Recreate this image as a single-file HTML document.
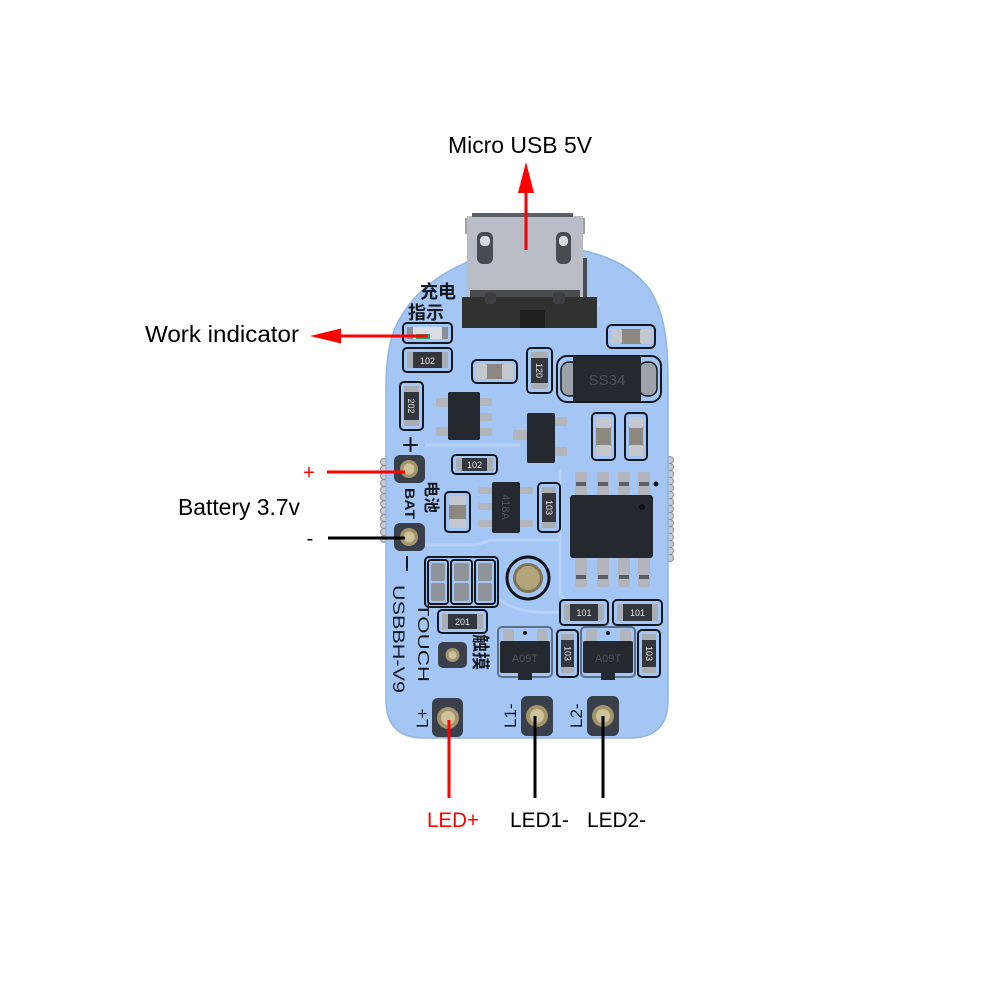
<!DOCTYPE html>
<html><head><meta charset="utf-8"><style>
html,body{margin:0;padding:0;background:#fff;}
svg{display:block}
.lbl{font-family:"Liberation Sans",sans-serif;font-size:23px;fill:#000;}
.silk{fill:none;stroke:#151820;stroke-width:2;}
.body{fill:#33363c;}
.end{fill:#a9aeb5;}
.tan{fill:#8e8780;}
.rt{font-family:"Liberation Sans",sans-serif;font-size:9px;fill:#e6e6e6;}
.ic{fill:#24282f;}
.pin{fill:#b2b6bc;}
.st{font-family:"Liberation Sans","Noto Sans CJK SC",sans-serif;fill:#151820;font-weight:bold;}
.pad{fill:#3a404b;}
.gold{fill:#a3946a;}
.gold2{fill:#cdc29a;}
</style></head><body>
<svg width="1000" height="1000" viewBox="0 0 1000 1000" xmlns="http://www.w3.org/2000/svg">
<rect width="1000" height="1000" fill="#fff"/>

<!-- castellated teeth -->
<g fill="#c9ccd1" stroke="#8d9096" stroke-width="1">
<circle cx="384" cy="462" r="3.5"/><circle cx="384" cy="469" r="3.5"/><circle cx="384" cy="476" r="3.5"/><circle cx="384" cy="483" r="3.5"/><circle cx="384" cy="490" r="3.5"/><circle cx="384" cy="497" r="3.5"/><circle cx="384" cy="504" r="3.5"/><circle cx="384" cy="511" r="3.5"/><circle cx="384" cy="518" r="3.5"/><circle cx="384" cy="525" r="3.5"/><circle cx="384" cy="532" r="3.5"/><circle cx="384" cy="539" r="3.5"/>
<circle cx="670" cy="460" r="3.5"/><circle cx="670" cy="467" r="3.5"/><circle cx="670" cy="474" r="3.5"/><circle cx="670" cy="481" r="3.5"/><circle cx="670" cy="488" r="3.5"/><circle cx="670" cy="495" r="3.5"/><circle cx="670" cy="502" r="3.5"/><circle cx="670" cy="509" r="3.5"/><circle cx="670" cy="516" r="3.5"/><circle cx="670" cy="523" r="3.5"/><circle cx="670" cy="530" r="3.5"/><circle cx="670" cy="537" r="3.5"/><circle cx="670" cy="544" r="3.5"/><circle cx="670" cy="551" r="3.5"/><circle cx="670" cy="558" r="3.5"/>
</g>

<!-- board -->
<path d="M386,700 L386,390 C386,350 392,330 402,315 C420,285 460,255 527,247 C590,244 630,262 650,290 C664,312 668,340 668,380 L668,700 Q668,738 630,738 L424,738 Q386,738 386,700 Z" fill="#a4c6f5" stroke="#93b4e2" stroke-width="1.5"/>

<!-- faint traces -->
<g fill="none" stroke="#bad4f9" stroke-width="3" opacity="0.8">
<path d="M420,545 L470,545 Q480,545 490,540 L560,540"/>
<path d="M500,600 Q520,615 560,612"/>
<path d="M425,445 L520,445"/>
<path d="M465,305 L600,305"/>
<path d="M560,470 L560,590 Q560,600 570,600"/>
</g>

<!-- USB connector -->
<rect x="465" y="218" width="8" height="16" fill="#9aa0a8"/>
<rect x="577" y="218" width="8" height="16" fill="#9aa0a8"/>
<rect x="583" y="258" width="4" height="40" fill="#4a4e54"/>
<rect x="467" y="216" width="116" height="82" fill="#b9bdc5"/>
<rect x="472" y="213" width="101" height="4" fill="#5a5e65"/>
<rect x="477" y="232" width="16" height="32" rx="6" fill="#474b52"/>
<rect x="480" y="236" width="10" height="10" rx="4" fill="#d6d9de"/>
<rect x="556" y="232" width="15" height="32" rx="6" fill="#474b52"/>
<rect x="559" y="236" width="9" height="10" rx="4" fill="#d6d9de"/>
<rect x="470" y="290" width="110" height="8" fill="#4a4d50"/>
<path d="M462,297 L597,297 L597,328 L462,328 Z" fill="#2f322f"/>
<rect x="485" y="292" width="11" height="12" rx="3" fill="#3c3f43"/>
<rect x="553" y="292" width="12" height="12" rx="3" fill="#3c3f43"/>
<rect x="520" y="310" width="25" height="18" fill="#1f2120"/>

<!-- Chinese silk -->
<text x="420" y="298" class="st" font-size="18" style="font-family:'Noto Sans CJK SC',sans-serif">充电</text>
<text x="408" y="319" class="st" font-size="18" style="font-family:'Noto Sans CJK SC',sans-serif">指示</text>

<!-- LED -->
<rect class="silk" x="403" y="323" width="49" height="20" rx="4"/>
<rect x="407" y="327" width="41" height="12" rx="2" fill="#dadee4"/>
<rect x="407" y="327" width="6" height="12" fill="#8c9096"/>
<rect x="442" y="327" width="6" height="12" fill="#8c9096"/>
<rect x="416" y="334" width="14" height="5" fill="#2e9e6a"/>

<!-- R 102 -->
<rect class="silk" x="403" y="348" width="49" height="24" rx="4"/>
<rect class="body" x="407" y="352" width="41" height="16" rx="3"/>
<rect class="end" x="407" y="352" width="6" height="16"/>
<rect class="end" x="442" y="352" width="6" height="16"/>
<text class="rt" x="427.5" y="364" text-anchor="middle">102</text>

<!-- cap -->
<rect class="silk" x="472" y="360" width="45" height="23" rx="5"/>
<rect x="476" y="364" width="37" height="15" rx="3" class="tan"/>
<rect x="476" y="364" width="11" height="15" rx="2" fill="#c4c8ce"/>
<rect x="502" y="364" width="11" height="15" rx="2" fill="#c4c8ce"/>

<!-- R 120 vertical -->
<rect class="silk" x="527" y="348" width="25" height="45" rx="4"/>
<rect class="body" x="531" y="352" width="17" height="37" rx="3"/>
<rect class="end" x="531" y="352" width="17" height="6"/>
<rect class="end" x="531" y="383" width="17" height="6"/>
<text class="rt" x="0" y="0" text-anchor="middle" transform="translate(536,370.5) rotate(90)">120</text>

<!-- SS34 -->
<rect class="silk" x="557" y="356" width="104" height="46" rx="10"/>
<rect x="561" y="362" width="18" height="34" rx="8" fill="#9da2a9" stroke="#151820" stroke-width="1.5"/>
<rect x="639" y="362" width="18" height="34" rx="8" fill="#9da2a9" stroke="#151820" stroke-width="1.5"/>
<rect x="573" y="356" width="68" height="45" class="ic"/>
<text x="607" y="385" text-anchor="middle" font-family="Liberation Sans,sans-serif" font-size="15" fill="#4d5159">SS34</text>

<!-- top-right cap -->
<rect class="silk" x="607" y="325" width="48" height="23" rx="5"/>
<rect x="611" y="329" width="40" height="15" rx="3" class="tan"/>
<rect x="611" y="329" width="11" height="15" rx="2" fill="#c4c8ce"/>
<rect x="640" y="329" width="11" height="15" rx="2" fill="#c4c8ce"/>

<!-- R 202 vertical -->
<rect class="silk" x="400" y="382" width="23" height="48" rx="4"/>
<rect class="body" x="404" y="386" width="15" height="40" rx="3"/>
<rect class="end" x="404" y="386" width="15" height="6"/>
<rect class="end" x="404" y="420" width="15" height="6"/>
<text class="rt" x="0" y="0" text-anchor="middle" transform="translate(408,406) rotate(90)">202</text>

<!-- SOT-23-5 #1 -->
<rect class="pin" x="436" y="398" width="14" height="9" rx="2"/>
<rect class="pin" x="436" y="427" width="14" height="9" rx="2"/>
<rect class="pin" x="478" y="398" width="14" height="8" rx="2"/>
<rect class="pin" x="478" y="413" width="14" height="8" rx="2"/>
<rect class="pin" x="478" y="428" width="14" height="8" rx="2"/>
<rect class="ic" x="448" y="392" width="32" height="48" rx="2"/>

<!-- SOT-23 #2 -->
<rect class="pin" x="513" y="430" width="15" height="10" rx="2"/>
<rect class="pin" x="553" y="417" width="14" height="9" rx="2"/>
<rect class="pin" x="553" y="447" width="14" height="9" rx="2"/>
<rect class="ic" x="527" y="413" width="28" height="50" rx="2"/>

<!-- vertical caps -->
<rect class="silk" x="592" y="413" width="23" height="47" rx="4"/>
<rect x="596" y="417" width="15" height="39" rx="3" class="tan"/>
<rect x="596" y="417" width="15" height="11" rx="2" fill="#c4c8ce"/>
<rect x="596" y="445" width="15" height="11" rx="2" fill="#c4c8ce"/>
<rect class="silk" x="625" y="413" width="22" height="47" rx="4"/>
<rect x="629" y="417" width="14" height="39" rx="3" class="tan"/>
<rect x="629" y="417" width="14" height="11" rx="2" fill="#c4c8ce"/>
<rect x="629" y="445" width="14" height="11" rx="2" fill="#c4c8ce"/>

<!-- + silk -->
<line x1="403" y1="445" x2="418" y2="445" stroke="#151820" stroke-width="2"/>
<line x1="410.5" y1="437" x2="410.5" y2="452" stroke="#151820" stroke-width="2"/>

<!-- R 102 #2 -->
<rect class="silk" x="452" y="455" width="45" height="19" rx="4"/>
<rect class="body" x="456" y="458" width="37" height="13" rx="3"/>
<rect class="end" x="456" y="458" width="6" height="13"/>
<rect class="end" x="487" y="458" width="6" height="13"/>
<text class="rt" x="474.5" y="468" text-anchor="middle">102</text>

<!-- battery pads -->
<rect class="pad" x="394" y="455" width="31" height="28" rx="6"/>
<circle class="gold" cx="409" cy="469" r="9"/>
<circle class="gold2" cx="409" cy="469" r="5.5"/>
<rect class="pad" x="394" y="523" width="31" height="28" rx="6"/>
<circle class="gold" cx="409" cy="537" r="9"/>
<circle class="gold2" cx="409" cy="537" r="5.5"/>

<!-- BAT / 电池 -->
<text class="st" font-size="14" transform="translate(405,488) rotate(90)" textLength="31" lengthAdjust="spacingAndGlyphs">BAT</text>
<text class="st" font-size="16" transform="translate(426,481) rotate(90)" style="font-family:'Noto Sans CJK SC',sans-serif">电池</text>

<!-- vertical cap -->
<rect class="silk" x="445" y="492" width="25" height="40" rx="4"/>
<rect x="449" y="496" width="17" height="32" rx="3" class="tan"/>
<rect x="449" y="496" width="17" height="9" rx="2" fill="#c4c8ce"/>
<rect x="449" y="519" width="17" height="9" rx="2" fill="#c4c8ce"/>

<!-- SOT-23-5 418A -->
<rect class="pin" x="478" y="487" width="15" height="7" rx="2"/>
<rect class="pin" x="478" y="503" width="15" height="7" rx="2"/>
<rect class="pin" x="478" y="520" width="15" height="7" rx="2"/>
<rect class="pin" x="519" y="487" width="14" height="7" rx="2"/>
<rect class="pin" x="519" y="520" width="14" height="7" rx="2"/>
<rect class="ic" x="492" y="482" width="28" height="51" rx="2"/>
<text x="0" y="0" text-anchor="middle" font-family="Liberation Sans,sans-serif" font-size="11" fill="#50545c" transform="translate(502,507) rotate(90)">418A</text>

<!-- R 103 vertical -->
<rect class="silk" x="538" y="483" width="22" height="49" rx="4"/>
<rect class="body" x="542" y="487" width="14" height="41" rx="3"/>
<rect class="end" x="542" y="487" width="14" height="6"/>
<rect class="end" x="542" y="522" width="14" height="6"/>
<text class="rt" x="0" y="0" text-anchor="middle" transform="translate(546,507.5) rotate(90)">103</text>

<!-- SOIC-8 -->
<g>
<rect class="pin" x="575" y="472" width="12" height="24" rx="2"/>
<rect class="pin" x="597" y="472" width="12" height="24" rx="2"/>
<rect class="pin" x="618" y="472" width="12" height="24" rx="2"/>
<rect class="pin" x="638" y="472" width="12" height="24" rx="2"/>
<rect class="pin" x="575" y="557" width="12" height="30" rx="2"/>
<rect class="pin" x="597" y="557" width="12" height="30" rx="2"/>
<rect class="pin" x="618" y="557" width="12" height="30" rx="2"/>
<rect class="pin" x="638" y="557" width="12" height="30" rx="2"/>
<rect x="576" y="482" width="10" height="4" fill="#5a5e64"/><rect x="598" y="482" width="10" height="4" fill="#5a5e64"/><rect x="619" y="482" width="10" height="4" fill="#5a5e64"/><rect x="639" y="482" width="10" height="4" fill="#5a5e64"/>
<rect x="576" y="575" width="10" height="4" fill="#5a5e64"/><rect x="598" y="575" width="10" height="4" fill="#5a5e64"/><rect x="619" y="575" width="10" height="4" fill="#5a5e64"/><rect x="639" y="575" width="10" height="4" fill="#5a5e64"/>
<rect class="ic" x="570" y="495" width="83" height="63" rx="3"/>
<circle cx="642" cy="507" r="3" fill="#111318"/>
<circle cx="656" cy="484" r="2.5" fill="#111318"/>
</g>

<!-- - silk -->
<line x1="407" y1="556" x2="407" y2="571" stroke="#151820" stroke-width="2"/>

<!-- jumpers -->
<rect class="silk" x="425" y="557" width="73" height="50" rx="4"/>
<rect class="silk" x="428" y="560" width="20" height="44" rx="3"/>
<rect class="silk" x="451" y="560" width="21" height="44" rx="3"/>
<rect class="silk" x="475" y="560" width="20" height="44" rx="3"/>
<g fill="#8f949b">
<rect x="431" y="563" width="14" height="18" rx="2"/><rect x="431" y="583" width="14" height="18" rx="2"/>
<rect x="454" y="563" width="15" height="18" rx="2"/><rect x="454" y="583" width="15" height="18" rx="2"/>
<rect x="478" y="563" width="14" height="18" rx="2"/><rect x="478" y="583" width="14" height="18" rx="2"/>
</g>

<!-- hole -->
<circle cx="528" cy="578" r="21" fill="#a4c6f5" stroke="#111318" stroke-width="3"/>
<circle cx="528" cy="578" r="15" fill="#7f7353"/>
<circle cx="528" cy="578" r="12" fill="#b3a57a"/>

<!-- R 201 -->
<rect class="silk" x="438" y="610" width="49" height="23" rx="4"/>
<rect class="body" x="442" y="614" width="41" height="15" rx="3"/>
<rect class="end" x="442" y="614" width="6" height="15"/>
<rect class="end" x="477" y="614" width="6" height="15"/>
<text class="rt" x="462.5" y="625" text-anchor="middle">201</text>

<!-- touch pad -->
<rect class="pad" x="438" y="642" width="29" height="26" rx="5"/>
<circle class="gold" cx="452.5" cy="655" r="7"/>
<circle class="gold2" cx="452.5" cy="655" r="4"/>

<!-- TOUCH / USBBH-V9 / 触摸 -->
<text class="st" font-size="16" transform="translate(418,603) rotate(90)" textLength="79" lengthAdjust="spacingAndGlyphs" style="font-weight:normal">TOUCH</text>
<text class="st" font-size="17" transform="translate(393,585) rotate(90)" textLength="108" lengthAdjust="spacingAndGlyphs" style="font-weight:normal">USBBH-V9</text>
<text class="st" font-size="18" transform="translate(474,634) rotate(90)" style="font-family:'Noto Sans CJK SC',sans-serif">触摸</text>

<!-- 101 resistors -->
<rect class="silk" x="560" y="600" width="48" height="25" rx="4"/>
<rect class="body" x="564" y="604" width="40" height="17" rx="3"/>
<rect class="end" x="564" y="604" width="6" height="17"/>
<rect class="end" x="598" y="604" width="6" height="17"/>
<text class="rt" x="584" y="616" text-anchor="middle">101</text>
<rect class="silk" x="613" y="600" width="49" height="25" rx="4"/>
<rect class="body" x="617" y="604" width="41" height="17" rx="3"/>
<rect class="end" x="617" y="604" width="6" height="17"/>
<rect class="end" x="652" y="604" width="6" height="17"/>
<text class="rt" x="637.5" y="616" text-anchor="middle">101</text>

<!-- A09T #1 -->
<rect class="silk" x="498" y="627" width="54" height="50" rx="4" stroke-opacity="0.5"/>
<rect class="pin" x="503" y="629" width="11" height="14" rx="2"/>
<rect class="pin" x="537" y="629" width="11" height="14" rx="2"/>
<rect class="ic" x="500" y="641" width="50" height="32" rx="2"/>
<rect class="ic" x="518" y="672" width="14" height="8"/>
<circle cx="525" cy="633" r="2" fill="#111318"/>
<text x="525" y="662" text-anchor="middle" font-family="Liberation Sans,sans-serif" font-size="11" fill="#50545c">A09T</text>

<!-- A09T #2 -->
<rect class="silk" x="581" y="627" width="54" height="50" rx="4" stroke-opacity="0.5"/>
<rect class="pin" x="586" y="629" width="11" height="14" rx="2"/>
<rect class="pin" x="620" y="629" width="11" height="14" rx="2"/>
<rect class="ic" x="583" y="641" width="50" height="32" rx="2"/>
<rect class="ic" x="601" y="672" width="14" height="8"/>
<circle cx="608" cy="633" r="2" fill="#111318"/>
<text x="608" y="662" text-anchor="middle" font-family="Liberation Sans,sans-serif" font-size="11" fill="#50545c">A09T</text>

<!-- R 103 verticals -->
<rect class="silk" x="557" y="630" width="21" height="47" rx="4"/>
<rect class="body" x="561" y="634" width="13" height="39" rx="3"/>
<rect class="end" x="561" y="634" width="13" height="6"/>
<rect class="end" x="561" y="667" width="13" height="6"/>
<text class="rt" x="0" y="0" text-anchor="middle" transform="translate(564.5,653.5) rotate(90)">103</text>
<rect class="silk" x="638" y="630" width="22" height="47" rx="4"/>
<rect class="body" x="642" y="634" width="14" height="39" rx="3"/>
<rect class="end" x="642" y="634" width="14" height="6"/>
<rect class="end" x="642" y="667" width="14" height="6"/>
<text class="rt" x="0" y="0" text-anchor="middle" transform="translate(646,653.5) rotate(90)">103</text>

<!-- bottom pads -->
<rect class="pad" x="432" y="698" width="31" height="39" rx="6"/>
<circle class="gold" cx="448" cy="718" r="11"/>
<circle class="gold2" cx="448" cy="718" r="7"/>
<rect class="pad" x="521" y="696" width="32" height="40" rx="6"/>
<circle class="gold" cx="537" cy="716" r="11"/>
<circle class="gold2" cx="537" cy="716" r="7"/>
<rect class="pad" x="587" y="696" width="32" height="40" rx="6"/>
<circle class="gold" cx="603" cy="716" r="11"/>
<circle class="gold2" cx="603" cy="716" r="7"/>

<text class="st" font-size="17" style="font-weight:normal" transform="translate(428,728) rotate(-90)">L+</text>
<text class="st" font-size="17" style="font-weight:normal" transform="translate(516,728) rotate(-90)">L1-</text>
<text class="st" font-size="17" style="font-weight:normal" transform="translate(582,728) rotate(-90)">L2-</text>

<!-- ===== annotations ===== -->
<line x1="526" y1="188" x2="526" y2="250" stroke="#f00" stroke-width="3"/>
<polygon points="526,162 518,193 534,193" fill="#f00"/>
<text class="lbl" x="448" y="153" textLength="144" lengthAdjust="spacingAndGlyphs">Micro USB 5V</text>

<line x1="336" y1="336" x2="428" y2="336" stroke="#f00" stroke-width="3"/>
<polygon points="310,336 341,328.5 341,343.5" fill="#f00"/>
<text class="lbl" x="145" y="342" textLength="154" lengthAdjust="spacingAndGlyphs">Work indicator</text>

<text x="309" y="479" text-anchor="middle" font-family="Liberation Sans,sans-serif" font-size="20" fill="#f00">+</text>
<line x1="327" y1="472" x2="405" y2="472" stroke="#f00" stroke-width="3"/>
<text class="lbl" x="178" y="515" textLength="122" lengthAdjust="spacingAndGlyphs">Battery 3.7v</text>
<text x="310" y="545" text-anchor="middle" font-family="Liberation Sans,sans-serif" font-size="20" fill="#000">-</text>
<line x1="328" y1="538" x2="405" y2="538" stroke="#000" stroke-width="3"/>

<line x1="449" y1="720" x2="449" y2="798" stroke="#f00" stroke-width="3"/>
<line x1="535" y1="716" x2="535" y2="798" stroke="#000" stroke-width="3"/>
<line x1="603" y1="716" x2="603" y2="798" stroke="#000" stroke-width="3"/>
<text x="427" y="827" font-family="Liberation Sans,sans-serif" font-size="21" fill="#f00" textLength="52" lengthAdjust="spacingAndGlyphs">LED+</text>
<text x="510" y="827" font-family="Liberation Sans,sans-serif" font-size="21" fill="#000" textLength="59" lengthAdjust="spacingAndGlyphs">LED1-</text>
<text x="587" y="827" font-family="Liberation Sans,sans-serif" font-size="21" fill="#000" textLength="59" lengthAdjust="spacingAndGlyphs">LED2-</text>
</svg>
</body></html>
